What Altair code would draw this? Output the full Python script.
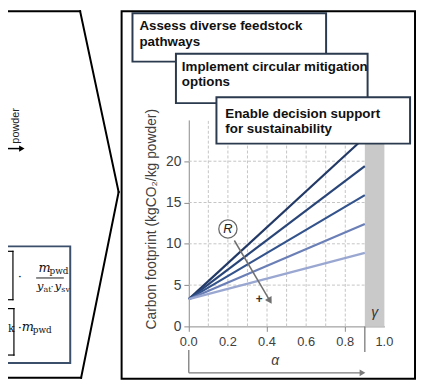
import altair as alt
import pandas as pd

# ---------------- data ----------------
series = ["s1", "s2", "s3", "s4", "s5"]
alpha_start = 0.0
alpha_end = 0.9
fp_start = 3.3
fp_end = [22.9, 19.4, 15.9, 12.4, 8.9]
line_colors = ["#223966", "#294577", "#33538c", "#6b7fb7", "#9aa7d1"]

x_label_vals = [0.0, 0.2, 0.4, 0.6, 0.8, 1.0]
x_label_text = ["0.0", "0.2", "0.4", "0.6", "0.8", "1.0"]
x_grid_vals = [0.1, 0.2, 0.3, 0.4, 0.5, 0.6, 0.7, 0.8]
y_tick_vals = [0, 5, 10, 15, 20]
y_grid_vals = [5, 10, 15, 20]
y_max = 25
band_alpha = [0.9, 1.0]

r_label_pos = [0.2, 11.8]
r_arrow_from = [0.233, 10.4]
r_arrow_to = [0.415, 3.1]
plus_pos = [0.36, 3.3]
gamma_pos = [0.95, 1.6]

box_texts = [
    ["Assess diverse feedstock", "pathways"],
    ["Implement circular mitigation", "options"],
    ["Enable decision support", "for sustainability"],
]

# ---------------- layout helpers (decor, pixel space) ----------------
W, H = 198, 209
PAD_L, PAD_T, PAD_R, PAD_B = 183, 111, 32, 54
one = pd.DataFrame({"k": [0]})


def P(x):
    return x - (PAD_L + 8)


def Q(y):
    return y - (PAD_T + 8)


def rule_px(x1, y1, x2, y2, color="#000000", w=2.0):
    return alt.Chart(one).mark_rule(color=color, strokeWidth=w, strokeCap="square").encode(
        x=alt.value(P(x1)), x2=alt.value(P(x2)), y=alt.value(Q(y1)), y2=alt.value(Q(y2))
    )


def rect_px(x1, y1, x2, y2, fill="white", stroke="#2b3a4e", w=2.0):
    return alt.Chart(one).mark_rect(fill=fill, stroke=stroke, strokeWidth=w).encode(
        x=alt.value(P(x1)), x2=alt.value(P(x2)), y=alt.value(Q(y1)), y2=alt.value(Q(y2))
    )


def text_px(x, y, s, size=13, weight="normal", style="normal", font="Liberation Sans",
            color="#111111", align="left", baseline="alphabetic", angle=None):
    kw = dict(text=s, fontSize=size, fontWeight=weight, fontStyle=style, font=font,
              color=color, align=align, baseline=baseline)
    if angle is not None:
        kw["angle"] = angle
    return alt.Chart(one).mark_text(**kw).encode(x=alt.value(P(x)), y=alt.value(Q(y)))


# ---------------- chart ----------------
rows = []
for s, e in zip(series, fp_end):
    rows.append({"series": s, "alpha": alpha_start, "fp": fp_start})
    rows.append({"series": s, "alpha": alpha_end, "fp": e})
lines_df = pd.DataFrame(rows)

x_axis = alt.Axis(
    values=x_label_vals, labels=False, grid=False,
    title="α", titleFontStyle="italic", titleFontWeight="normal", titleFontSize=14,
    titleX=87, titleY=35, titleBaseline="middle", titleAlign="center",
)
y_axis = alt.Axis(
    values=y_tick_vals, grid=False, labelFlush=False, labelOverlap=False, labelFontSize=14,
    title="Carbon footprint (kgCO₂/kg powder)", titleFontWeight="normal", titleFontSize=14,
    titleX=-38, titleY=100, titleAngle=270, titleAlign="center", titleBaseline="middle",
)
x_scale = alt.Scale(domain=[0, 1], nice=False, zero=False)
y_scale = alt.Scale(domain=[0, y_max], nice=False)

lines = alt.Chart(lines_df).mark_line(strokeWidth=2.2).encode(
    x=alt.X("alpha:Q", scale=x_scale, axis=x_axis),
    y=alt.Y("fp:Q", scale=y_scale, axis=y_axis),
    color=alt.Color("series:N", scale=alt.Scale(domain=series, range=line_colors), legend=None),
)

grid_style = dict(color="#c4c4c4", strokeWidth=1, strokeDash=[3, 2])
vgrid = alt.Chart(pd.DataFrame({"alpha": x_grid_vals})).mark_rule(**grid_style).encode(
    x=alt.X("alpha:Q", scale=x_scale, axis=x_axis), y=alt.datum(0), y2=alt.datum(y_max))
hgrid = alt.Chart(pd.DataFrame({"fp": y_grid_vals})).mark_rule(**grid_style).encode(
    y=alt.Y("fp:Q", scale=y_scale, axis=y_axis), x=alt.datum(0), x2=alt.datum(band_alpha[0]))

x_labels = alt.Chart(pd.DataFrame({"alpha": x_label_vals, "lab": x_label_text})).mark_text(
    fontSize=13, font="Liberation Sans", color="#404040", baseline="middle").encode(
    x=alt.X("alpha:Q", scale=x_scale, axis=x_axis), y=alt.value(H + 16), text="lab:N")

band = alt.Chart(one).mark_rect(fill="#c9c9c9").encode(
    x=alt.datum(band_alpha[0]), x2=alt.datum(band_alpha[1]),
    y=alt.datum(0), y2=alt.datum(y_max),
)

r_arrow = alt.Chart(one).mark_rule(color="#707070", strokeWidth=1.5).encode(
    x=alt.datum(r_arrow_from[0]), y=alt.datum(r_arrow_from[1]),
    x2=alt.datum(r_arrow_to[0]), y2=alt.datum(r_arrow_to[1]),
)
r_head = alt.Chart(one).mark_point(shape="triangle-right", angle=59, size=60, filled=True,
                                   color="#707070", opacity=1).encode(
    x=alt.datum(r_arrow_to[0]), y=alt.datum(r_arrow_to[1]),
)
r_circle = alt.Chart(one).mark_point(shape="circle", size=340, filled=True, fill="white",
                                     stroke="#6a6a6a", strokeWidth=1.3, opacity=1).encode(
    x=alt.datum(r_label_pos[0]), y=alt.datum(r_label_pos[1]),
)
r_text = alt.Chart(one).mark_text(text="R", fontStyle="italic", fontSize=13, font="Liberation Sans",
                                  color="#222222").encode(
    x=alt.datum(r_label_pos[0]), y=alt.datum(r_label_pos[1]),
)
plus_text = alt.Chart(one).mark_text(text="+", fontSize=12, font="Liberation Sans", fontWeight="bold",
                                     color="#333333").encode(
    x=alt.datum(plus_pos[0]), y=alt.datum(plus_pos[1]),
)
gamma_text = alt.Chart(one).mark_text(text="γ", fontStyle="italic", fontSize=14, font="Liberation Sans",
                                      color="#333333").encode(
    x=alt.datum(gamma_pos[0]), y=alt.datum(gamma_pos[1]),
)

# alpha range arrow under the x axis
a_v1 = alt.Chart(one).mark_rule(color="#7a7a7a", strokeWidth=1.3).encode(
    x=alt.datum(alpha_start), y=alt.value(Q(352)), y2=alt.value(Q(375)))
a_h = alt.Chart(one).mark_rule(color="#7a7a7a", strokeWidth=1.3).encode(
    x=alt.datum(alpha_start), x2=alt.datum(alpha_end - 0.02), y=alt.value(Q(375)))
a_head = alt.Chart(one).mark_point(shape="triangle-right", size=45, filled=True, color="#7a7a7a",
                                   opacity=1).encode(x=alt.datum(alpha_end - 0.012), y=alt.value(Q(375)))
a_v2 = alt.Chart(one).mark_rule(color="#7a7a7a", strokeWidth=1.3).encode(
    x=alt.datum(alpha_end), y=alt.value(Q(328)), y2=alt.value(Q(354)))

layers = [vgrid, hgrid, band, lines, x_labels, r_arrow, r_head, r_circle, r_text, plus_text,
          gamma_text, a_v1, a_h, a_head, a_v2]

# right-panel frame
layers.append(rect_px(123, 9, 420, 381, fill="transparent", stroke="#000000", w=2))

# left chevron
layers += [
    rule_px(8, 9, 81, 9),
    rule_px(81, 9, 120, 192),
    rule_px(120, 192, 82, 380),
    rule_px(8, 380, 82, 380),
]
# left "powder" flow arrow
layers += [
    text_px(16, 125, "powder", size=11, angle=270, align="center", baseline="middle", color="#222222"),
    rule_px(8, 148, 20, 148, w=1.5),
    alt.Chart(one).mark_point(shape="triangle-right", size=40, filled=True, color="#000000", opacity=1).encode(
        x=alt.value(P(22)), y=alt.value(Q(148))),
]
# equation box
SERIF = "DejaVu Serif"
layers += [
    rect_px(0, 247, 71, 365, fill="white", stroke="#3b4f6b", w=2),
    rule_px(13, 252, 13, 301, w=1.2),
    rule_px(8, 252, 13, 252, w=1.2),
    rule_px(8, 301, 13, 301, w=1.2),
    text_px(18, 282, "·", size=12, font=SERIF),
    text_px(39, 273, "m", size=13, style="italic", font=SERIF),
    text_px(50, 275, "pwd", size=9, font=SERIF),
    rule_px(37, 279, 64, 279, w=0.9),
    text_px(37, 291, "y", size=12, style="italic", font=SERIF),
    text_px(44, 293, "at", size=8, font=SERIF),
    text_px(51, 291, "·", size=10, font=SERIF),
    text_px(55, 291, "y", size=12, style="italic", font=SERIF),
    text_px(62, 293, "sv", size=8, font=SERIF),
    text_px(8, 334, "k", size=11, font=SERIF),
    rule_px(14, 310, 14, 357, w=1.2),
    rule_px(8, 310, 14, 310, w=1.2),
    rule_px(8, 357, 14, 357, w=1.2),
    text_px(18, 334, "·", size=12, font=SERIF),
    text_px(22, 333, "m", size=13, style="italic", font=SERIF),
    text_px(33, 335, "pwd", size=9, font=SERIF),
]

# overlapping objective boxes
box_geo = [(134, 11, 330, 60), (178, 52, 372, 102), (219, 96, 415, 143)]
text_geo = [(141, 28, 44), (184, 69, 85), (228, 117, 132)]
for (x1, y1, x2, y2), (tx, ty1, ty2), lines_txt in zip(box_geo, text_geo, box_texts):
    layers.append(rect_px(x1, y1, x2, y2, fill="white", stroke="#2b3a4e", w=2))
    layers.append(text_px(tx, ty1, lines_txt[0], size=13.5, weight="bold"))
    layers.append(text_px(tx, ty2, lines_txt[1], size=13.5, weight="bold"))

chart = alt.layer(*layers).properties(
    width=W, height=H,
    padding={"left": PAD_L, "top": PAD_T, "right": PAD_R, "bottom": PAD_B},
    autosize=alt.AutoSizeParams(type="none"),
    background="white",
).configure_view(stroke=None).configure_axis(
    labelFont="Liberation Sans", labelFontSize=13, labelColor="#404040", labelPadding=3,
    titleFont="Liberation Sans", titleColor="#404040",
    domainColor="#8a8a8a", tickColor="#8a8a8a", tickSize=5,
    labelOverlap=False, labelFlush=False, grid=False,
)

chart.save("out.html", embed_options={"renderer": "svg", "actions": False})
